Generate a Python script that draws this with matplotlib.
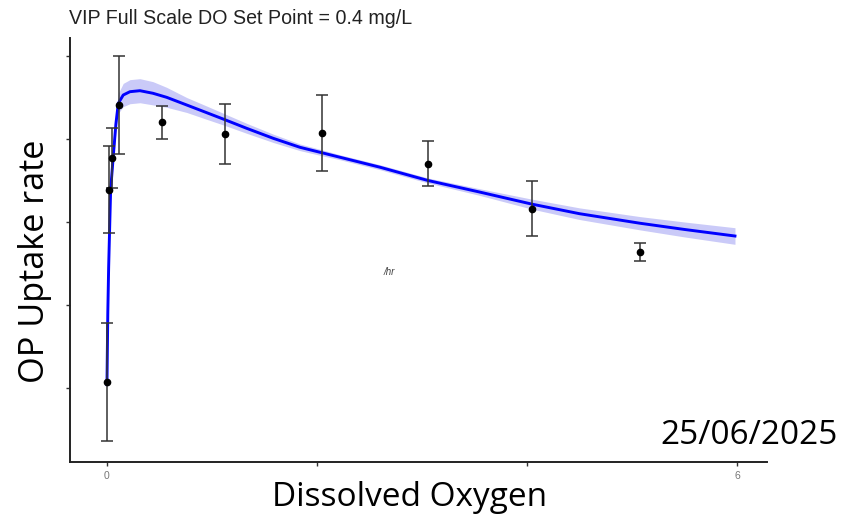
import matplotlib
matplotlib.use("Agg")
import matplotlib.pyplot as plt
import numpy as np

# Observed data (mean +/- error)
obs_x = [0.0, 0.02, 0.05, 0.114, 0.524, 1.12, 2.05, 3.06, 4.05, 5.08]
obs_y = [1.07, 3.39, 3.77, 4.41, 4.20, 4.06, 4.07, 3.70, 3.16, 2.64]
obs_err = [0.71, 0.52, 0.36, 0.59, 0.20, 0.36, 0.46, 0.27, 0.33, 0.11]

# Fitted curve, with confidence band half-width
fit_x = [0.0, 0.008, 0.016, 0.024, 0.035, 0.06, 0.085, 0.108, 0.155, 0.219, 0.314,
         0.438, 0.569, 0.759, 0.95, 1.114, 1.33, 1.584, 1.838, 2.067, 2.219, 2.6,
         3.057, 3.552, 4.048, 4.5, 5.076, 5.5, 5.981]
fit_y = [1.04, 1.90, 2.45, 2.85, 3.39, 3.79, 4.18, 4.43, 4.53, 4.57, 4.582,
         4.551, 4.502, 4.41, 4.317, 4.237, 4.129, 4.008, 3.90, 3.828, 3.78, 3.66,
         3.50, 3.36, 3.215, 3.10, 2.985, 2.91, 2.831]
fit_ci = [0.02, 0.03, 0.04, 0.05, 0.06, 0.07, 0.10, 0.12, 0.14, 0.145, 0.145,
          0.14, 0.12, 0.09, 0.08, 0.07, 0.06, 0.05, 0.04, 0.035, 0.03, 0.03,
          0.03, 0.04, 0.06, 0.07, 0.08, 0.09, 0.10]

y_ticks = [1, 2, 3, 4, 5]
x_ticks = [0, 2, 4, 6]
x_tick_labels = ["0", "", "", "6"]

fig = plt.figure(figsize=(8.48, 5.2), dpi=100)
ax = fig.add_axes([70/848, 58/520, 697/848, 424/520])

fx = np.array(fit_x); fy = np.array(fit_y); fc = np.array(fit_ci)
ax.fill_between(fx, fy - fc, fy + fc, color="#cacaf8", lw=0, zorder=1)
ax.plot(fx, fy, color="#0000ff", lw=2.1, zorder=2, solid_joinstyle="round")
ax.errorbar(obs_x, obs_y, yerr=obs_err, fmt="o", color="black", ecolor="#333333",
            elinewidth=1.1, capsize=4, capthick=1.1, markersize=4.5, zorder=3)

ax.set_xlim(-0.352, 6.286)
ax.set_ylim(0.108, 5.217)
ax.set_yticks(y_ticks)
ax.set_yticklabels([])
ax.set_xticks(x_ticks)
ax.set_xticklabels(x_tick_labels, fontsize=7.5, color="#777777",
                   family=["Liberation Sans", "DejaVu Sans"])
ax.tick_params(axis="both", direction="out", length=3, width=1, color="#333333")
for s in ["top", "right"]:
    ax.spines[s].set_visible(False)
for s in ["left", "bottom"]:
    ax.spines[s].set_linewidth(1.4)
    ax.spines[s].set_color("#222222")

ax.text(2.63, 2.40, "/hr", fontsize=7, style="italic", color="#444444",
        ha="left", va="center", family=["Liberation Sans", "DejaVu Sans"])

fig.text(69/848, 1 - 18/520, "VIP Full Scale DO Set Point = 0.4 mg/L", fontsize=14.1,
         color="#222222", va="center", ha="left", family=["Liberation Sans", "DejaVu Sans"])
fig.text(410/848, 1 - 497/520, "Dissolved Oxygen", fontsize=24, color="black",
         ha="center", va="center", family=["Open Sans", "DejaVu Sans"])
fig.text(35/848, 1 - 261/520, "OP Uptake rate", fontsize=24.7, rotation=90, color="black",
         ha="center", va="center", family=["Open Sans", "DejaVu Sans"])
fig.text(838/848, 1 - 436/520, "25/06/2025", fontsize=24, color="black",
         ha="right", va="center", family=["Open Sans", "DejaVu Sans"])

fig.savefig("out.png", dpi=100)
